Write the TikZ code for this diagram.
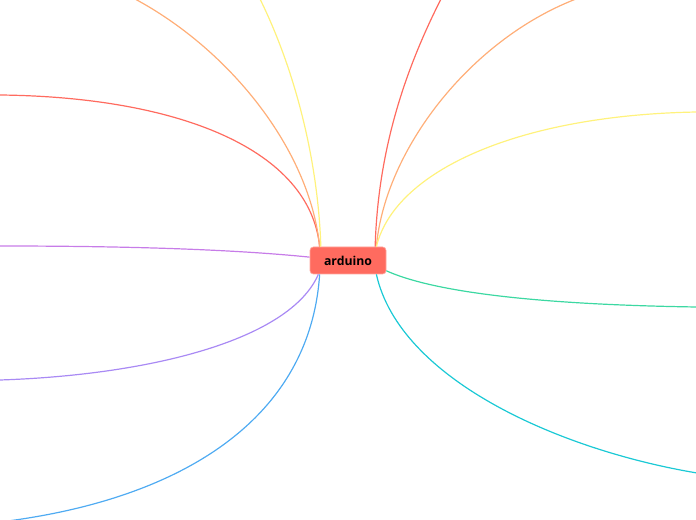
\documentclass[tikz,border=0pt]{standalone}
\usepackage{fontspec}
\setmainfont{Open Sans}
\usepackage{xcolor}

\definecolor{rootfill}{HTML}{FF6B5F}
\definecolor{rootedge}{HTML}{FFA49C}
\definecolor{cred}{HTML}{FF6B5F}
\definecolor{corange}{HTML}{FFAE78}
\definecolor{cyellow}{HTML}{FFF27C}
\definecolor{cpurple}{HTML}{C77CE8}
\definecolor{cviolet}{HTML}{A98AF4}
\definecolor{cblue}{HTML}{4FABF2}
\definecolor{cgreen}{HTML}{3CD8A2}
\definecolor{cteal}{HTML}{1BC9D5}

\begin{document}
\begin{tikzpicture}[x=0.75pt,y=0.75pt,yscale=-1,xscale=1]

    \useasboundingbox (0,0) rectangle (696,520);

    \draw (348,260.5) node [align=center, minimum width=57pt, minimum height=20.25pt, inner sep=0pt, rounded corners=2.5pt, draw=rootedge, line width=0.5pt, fill=rootfill, font=\bfseries\fontsize{9.2}{11}\selectfont] (root) {arduino};

    \coordinate (lred) at (0,95);
    \coordinate (lorange) at (135,-1);
    \coordinate (lyellow) at (260,-1);
    \coordinate (lpurple) at (0,246);
    \coordinate (lviolet) at (0,380);
    \coordinate (lblue) at (0,522);
    \coordinate (rred) at (441,-1);
    \coordinate (rorange) at (576,-1);
    \coordinate (ryellow) at (697,112);
    \coordinate (rgreen) at (697,307);
    \coordinate (rteal) at (697,473);

    \draw [cred, line width=0.9pt] (root.154) .. controls (310,150) and (180,97) .. (lred);
    \draw [corange, line width=0.9pt] (root.154) .. controls (310,150) and (230,50) .. (lorange);
    \draw [cyellow, line width=0.9pt] (root.153) .. controls (318,160) and (295,70) .. (lyellow);
    \draw [cpurple, line width=0.9pt] (root.175) .. controls (220,248) and (100,246) .. (lpurple);
    \draw [cviolet, line width=0.9pt] (root.205) .. controls (290,340) and (150,375) .. (lviolet);
    \draw [cblue, line width=0.9pt] (root.206) .. controls (310,420) and (180,500) .. (lblue);
    \draw [cred, line width=0.9pt] (root.27) .. controls (378,150) and (405,70) .. (rred);
    \draw [corange, line width=0.9pt] (root.26) .. controls (385,150) and (470,40) .. (rorange);
    \draw [cyellow, line width=0.9pt] (root.26) .. controls (395,170) and (520,115) .. (ryellow);
    \draw [cgreen, line width=0.9pt] (root.-15) .. controls (440,295) and (560,305) .. (rgreen);
    \draw [cteal, line width=0.9pt] (root.-26) .. controls (400,380) and (560,450) .. (rteal);

\end{tikzpicture}
\end{document}
